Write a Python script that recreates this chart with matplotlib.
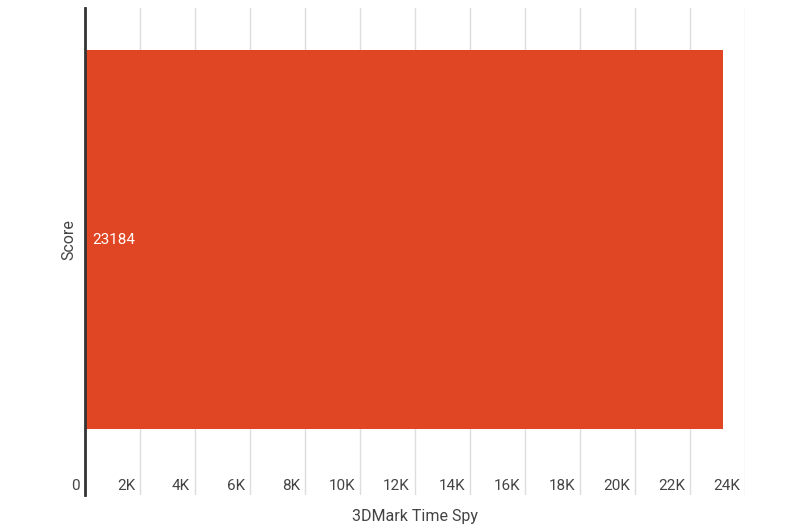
#!/usr/bin/python

import numpy as np
import matplotlib
matplotlib.use('Agg')
import matplotlib.pyplot as plt
import matplotlib.transforms as mtransforms

plt.rcParams['font.family'] = ['Roboto', 'DejaVu Sans']

# Data
categories = ['Score']
values = [23184]
tick_values = np.arange(0, 24001, 2000)
tick_labels = ['0'] + ['%dK' % (v // 1000) for v in tick_values[1:]]
x_title = '3DMark Time Spy'

bar_color = '#E04623'
text_color = '#444444'
grid_color = '#DDDDDD'


def main():
    fig = plt.figure(figsize=(8, 5.31), dpi=100)
    ax = fig.add_axes([85 / 800, 1 - 495 / 531, 660 / 800, 487 / 531])

    y = np.arange(len(categories))
    ax.barh(y, values, height=1.0, color=bar_color, zorder=2)

    ax.set_xlim(0, 24000)
    ax.set_ylim(0.5 + 66 / 379, -0.5 - 42 / 379)

    # vertical gridlines
    for v in tick_values[1:]:
        ax.axvline(v, color=grid_color, linewidth=1, zorder=1)

    for s in ['top', 'right', 'bottom']:
        ax.spines[s].set_visible(False)
    ax.spines['left'].set_color('#333333')
    ax.spines['left'].set_linewidth(2)
    ax.spines['left'].set_zorder(3)

    ax.set_xticks([])
    ax.set_yticks(y)
    ax.set_yticklabels(categories, rotation=90, va='center',
                       fontsize=11.5, color=text_color)
    ax.tick_params(axis='y', length=0, pad=6)

    # tick labels sit inside the plot, just left of each gridline
    base = mtransforms.blended_transform_factory(ax.transData, ax.transAxes)
    shift = mtransforms.ScaledTranslation(-5 / 100, 0, fig.dpi_scale_trans)
    for v, lab in zip(tick_values, tick_labels):
        ax.text(v, 0.018, lab, transform=base + shift, ha='right',
                va='center', fontsize=11, color=text_color)

    # value labels
    for yi, v in zip(y, values):
        ax.text(250, yi, str(v), ha='left', va='center',
                fontsize=11, color='white', zorder=4)

    ax.text(0.5, -0.045, x_title, transform=ax.transAxes, ha='center',
            va='center', fontsize=11.5, color=text_color)

    fig.savefig('out.png', dpi=100)


if __name__ == '__main__':
    main()
